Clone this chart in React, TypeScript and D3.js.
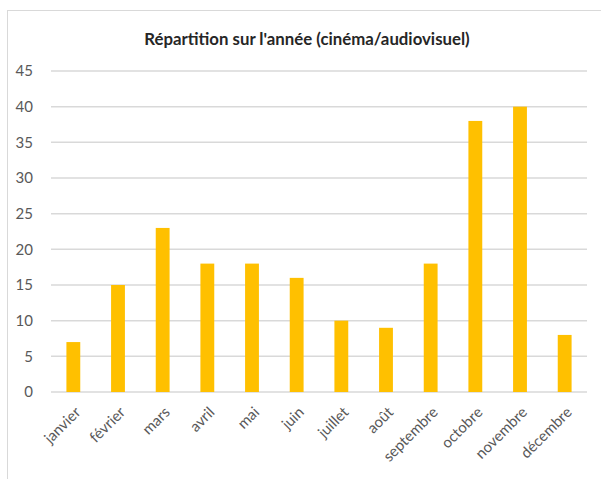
import React, { useEffect, useRef } from "react";
import * as d3 from "d3";

const months = ["janvier", "février", "mars", "avril", "mai", "juin", "juillet", "août", "septembre", "octobre", "novembre", "décembre"];
const counts = [7, 15, 23, 18, 18, 16, 10, 9, 18, 38, 40, 8];
const yTicks = [0, 5, 10, 15, 20, 25, 30, 35, 40, 45];
const title = "Répartition sur l'année (cinéma/audiovisuel)";

export default function App() {
  const ref = useRef<SVGSVGElement>(null);

  useEffect(() => {
    const width = 601;
    const height = 479;
    const margin = { top: 71, right: 14, bottom: 87, left: 51 };
    const innerWidth = width - margin.left - margin.right;
    const innerHeight = height - margin.top - margin.bottom;

    const svg = d3.select(ref.current).attr("width", width).attr("height", height);
    svg.selectAll("*").remove();

    svg.append("rect").attr("x", 7.5).attr("y", 10.5).attr("width", 600).attr("height", 480)
      .attr("fill", "white").attr("stroke", "#d9d9d9");

    svg.append("text").text(title).attr("x", 307).attr("y", 45).attr("text-anchor", "middle")
      .attr("font-family", "Lato, 'Open Sans', sans-serif").attr("font-weight", "bold")
      .attr("font-size", "16.8px").attr("fill", "#262626");

    const inner = svg.append("g").attr("transform", `translate(${margin.left}, ${margin.top})`);

    const xScale = d3.scaleBand().domain(months).range([0, innerWidth]).paddingInner(0.69).paddingOuter(0.345);
    const yScale = d3.scaleLinear().domain([0, 45]).range([innerHeight, 0]);

    // gridlines
    inner.selectAll(".grid").data(yTicks).join("line").attr("class", "grid")
      .attr("x1", 0).attr("x2", innerWidth)
      .attr("y1", d => yScale(d)).attr("y2", d => yScale(d))
      .attr("stroke", "#d9d9d9").attr("stroke-width", 1.5);

    const yAxis = inner.append("g").call(d3.axisLeft(yScale).tickValues(yTicks).tickSize(0).tickPadding(18));
    yAxis.select(".domain").remove();
    yAxis.selectAll("text").attr("font-family", "Lato, 'Open Sans', sans-serif").attr("font-size", "15px").attr("fill", "#595959");

    inner.selectAll(".bar").data(counts).join("rect").attr("class", "bar")
      .attr("x", (d, i) => xScale(months[i])!).attr("width", xScale.bandwidth())
      .attr("y", d => yScale(d)).attr("height", d => innerHeight - yScale(d))
      .attr("fill", "#ffc000");

    const xAxis = inner.append("g").attr("transform", `translate(0, ${innerHeight})`)
      .call(d3.axisBottom(xScale).tickSize(0).tickPadding(0));
    xAxis.select(".domain").remove();
    xAxis.selectAll("text")
      .attr("font-family", "Lato, 'Open Sans', sans-serif").attr("font-size", "15px").attr("fill", "#595959")
      .attr("text-anchor", "end").attr("dy", "0.3em")
      .attr("transform", "translate(5, 18) rotate(-45)");
  }, []);

  return <svg ref={ref} style={{ position: "absolute", left: 0, top: 0 }} />;
}
